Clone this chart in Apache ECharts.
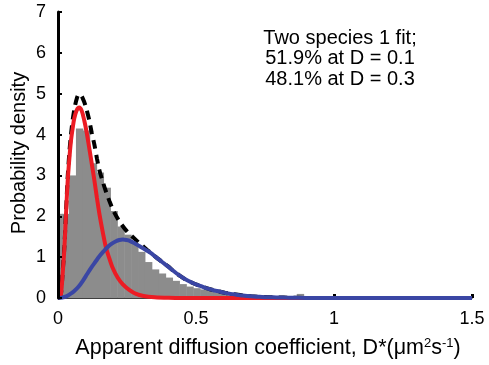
<!DOCTYPE html>
<html>
<head>
<meta charset="utf-8">
<script src="https://cdn.jsdelivr.net/npm/echarts@6/dist/echarts.min.js"></script>
<style>
html,body{margin:0;padding:0;background:#fff;}
#chart{width:489px;height:365px;}
</style>
</head>
<body>
<div id="chart"></div>
<script>
// ---- data ----
var binWidth = 0.025;
var firstBinStart = -0.01;
var histHeights = [2.06, 2.06, 3.0, 4.15, 4.1, 3.3, 3.07, 2.7, 2.13, 1.75,
  1.55, 1.35, 1.13, 0.88, 0.70, 0.60, 0.50, 0.42, 0.34, 0.28,
  0.24, 0.21, 0.18, 0.14, 0.12, 0.10, 0.09, 0.08, 0.07, 0.06,
  0.06, 0.05, 0.05, 0.04, 0.04, 0.10, 0.04, 0.03, 0.03, 0.03,
  0.02, 0.02, 0.02, 0.02, 0.01, 0.01, 0.01, 0.01, 0.01, 0.01,
  0, 0, 0, 0, 0, 0, 0, 0, 0, 0, 0];
var redCurve = [[0,0],[0.006,0.02],[0.011,0.1],[0.017,0.6],[0.023,1.2],[0.029,2.05],[0.035,2.85],[0.041,3.4],[0.047,3.85],[0.053,4.15],[0.059,4.4],[0.068,4.6],[0.077,4.66],[0.086,4.58],[0.095,4.35],[0.104,4.05],[0.113,3.68],[0.122,3.3],[0.132,2.87],[0.141,2.45],[0.15,2.06],[0.162,1.62],[0.174,1.23],[0.186,0.97],[0.198,0.74],[0.216,0.5],[0.234,0.34],[0.258,0.2],[0.283,0.1],[0.31,0.05],[0.35,0.02],[0.4,0.005],[0.45,0],[0.6,0],[0.9,0],[1.2,0],[1.5,0]];
var blueCurve = [[0,0],[0.015,0.01],[0.03,0.04],[0.045,0.1],[0.059,0.17],[0.075,0.28],[0.09,0.42],[0.105,0.58],[0.12,0.74],[0.135,0.88],[0.15,1.02],[0.165,1.14],[0.18,1.25],[0.195,1.33],[0.21,1.39],[0.222,1.42],[0.235,1.43],[0.248,1.42],[0.26,1.4],[0.28,1.33],[0.3,1.25],[0.32,1.17],[0.337,1.1],[0.355,1.0],[0.37,0.92],[0.385,0.84],[0.397,0.78],[0.415,0.68],[0.43,0.6],[0.445,0.53],[0.458,0.47],[0.475,0.41],[0.49,0.36],[0.505,0.32],[0.518,0.29],[0.533,0.25],[0.548,0.22],[0.563,0.19],[0.578,0.17],[0.595,0.14],[0.61,0.12],[0.625,0.1],[0.639,0.09],[0.655,0.07],[0.67,0.06],[0.685,0.05],[0.70,0.04],[0.73,0.03],[0.76,0.02],[0.79,0.015],[0.82,0.01],[0.86,0.005],[0.9,0],[1.0,0],[1.2,0],[1.5,0]];
var sumCurve = [[0,0],[0.006,0.03],[0.011,0.12],[0.017,0.65],[0.023,1.25],[0.029,2.1],[0.035,2.95],[0.041,3.55],[0.047,4.0],[0.053,4.35],[0.06,4.65],[0.068,4.88],[0.075,4.98],[0.082,4.97],[0.09,4.88],[0.1,4.7],[0.113,4.36],[0.122,4.05],[0.132,3.75],[0.141,3.42],[0.15,3.13],[0.162,2.85],[0.174,2.6],[0.187,2.36],[0.2,2.15],[0.215,1.96],[0.23,1.8],[0.25,1.63],[0.27,1.5],[0.29,1.37],[0.307,1.27],[0.322,1.18],[0.337,1.1],[0.355,1.0],[0.37,0.92],[0.385,0.84],[0.4,0.77],[0.415,0.68],[0.43,0.6],[0.445,0.53],[0.458,0.47],[0.475,0.41],[0.49,0.36],[0.505,0.32],[0.518,0.29],[0.548,0.22],[0.578,0.17],[0.61,0.12],[0.639,0.09],[0.67,0.06],[0.7,0.04],[0.76,0.02],[0.82,0.01],[0.9,0],[1.2,0],[1.5,0]];
var xTicks = [0, 0.5, 1, 1.5];
var yTicks = [0, 1, 2, 3, 4, 5, 6, 7];
var annotationLines = ['Two species 1 fit;', '51.9% at D = 0.1', '48.1% at D = 0.3'];
var xTitle = 'Apparent diffusion coefficient, D*(\u03bcm{sup|2}s{sup|-1})';
var yTitle = 'Probability density';

var FONT = '"Liberation Sans", Arial, Helvetica, sans-serif';
var histData = histHeights.map(function (h, i) {
  return [Math.max(0, firstBinStart + i * binWidth), firstBinStart + (i + 1) * binWidth, h];
});

var chart = echarts.init(document.getElementById('chart'), null, {renderer: 'canvas'});
var graphics = annotationLines.map(function (t, i) {
  return {type: 'text', x: 340, y: 38 + i * 20.5, z: 10,
    style: {text: t, align: 'center', verticalAlign: 'middle', fontSize: 20, fontFamily: FONT, fill: '#000'}};
});
graphics.push({type: 'text', x: 268, y: 348, style: {text: xTitle, align: 'center', verticalAlign: 'middle', fontSize: 21.5, fontFamily: FONT, fill: '#000',
  rich: {sup: {fontSize: 13, fontFamily: FONT, verticalAlign: 'top', fill: '#000'}}}});
graphics.push({type: 'text', x: 19.5, y: 153, rotation: Math.PI / 2, style: {text: yTitle, align: 'center', verticalAlign: 'middle', fontSize: 20, fontFamily: FONT, fill: '#000'}});

chart.setOption({
  animation: false,
  grid: {left: 58, right: 17, top: 12, bottom: 67},
  xAxis: {type: 'value', min: 0, max: 1.5, interval: 0.5, z: 0,
    axisLine: {show: true, onZero: false, lineStyle: {color: '#000', width: 1.5}},
    axisTick: {show: true, inside: true, length: 4, lineStyle: {color: '#000', width: 3}},
    axisLabel: {margin: 12, fontSize: 18, fontFamily: FONT, color: '#000',
      formatter: function (v) { return xTicks.indexOf(v) >= 0 ? String(v) : ''; }},
    splitLine: {show: false}},
  yAxis: {type: 'value', min: 0, max: 7, interval: 1, z: 6,
    axisLine: {show: true, lineStyle: {color: '#000', width: 3}},
    axisTick: {show: true, inside: true, length: 4, lineStyle: {color: '#000', width: 2}},
    axisLabel: {margin: 12, fontSize: 18, fontFamily: FONT, color: '#000',
      formatter: function (v) { return yTicks.indexOf(v) >= 0 ? String(v) : ''; }},
    splitLine: {show: false}},
  graphic: graphics,
  series: [
    {type: 'custom', data: histData, z: 2, silent: true,
      renderItem: function (params, api) {
        var p0 = api.coord([api.value(0), api.value(2)]);
        var p1 = api.coord([api.value(1), 0]);
        return {type: 'rect', shape: {x: p0[0], y: p0[1], width: p1[0] - p0[0] + 0.5, height: p1[1] - p0[1]},
          style: {fill: '#8c8c8c', stroke: null}};
      }},
    {type: 'line', data: sumCurve, z: 3, showSymbol: false, smooth: 0.3,
      lineStyle: {color: '#000', width: 4, type: [9, 6]}},
    {type: 'line', data: redCurve, z: 4, showSymbol: false, smooth: 0.3,
      lineStyle: {color: '#ec1c24', width: 4}},
    {type: 'line', data: blueCurve, z: 5, showSymbol: false, smooth: 0.3,
      lineStyle: {color: '#3a46a4', width: 4}}
  ]
});
</script>
</body>
</html>
